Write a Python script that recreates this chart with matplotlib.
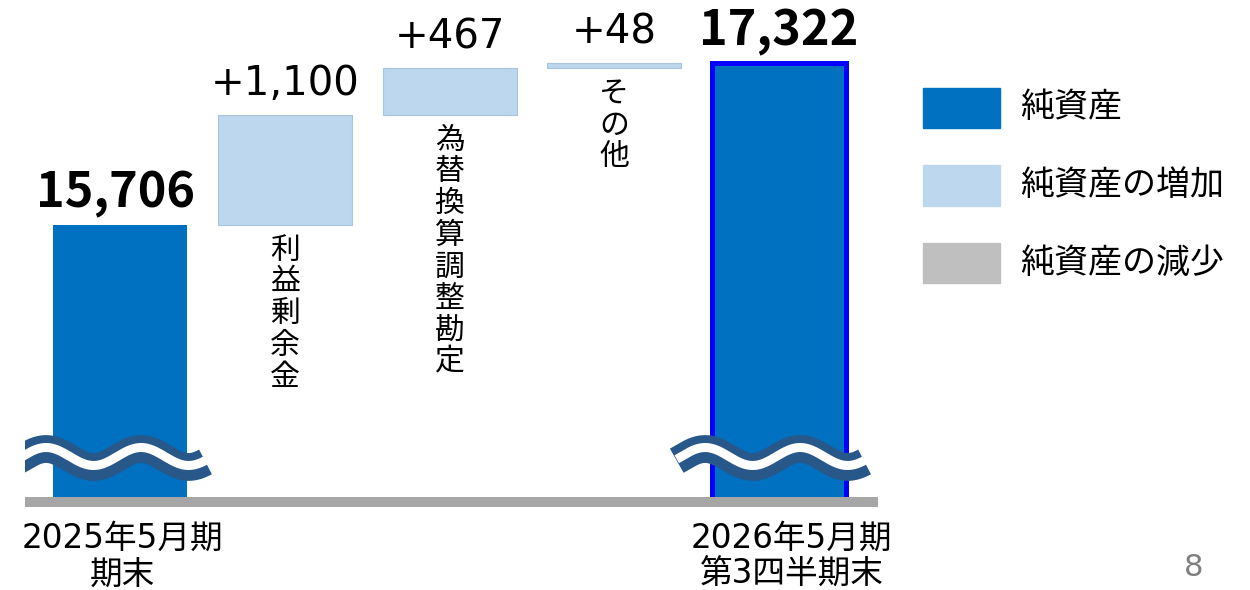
import numpy as np
import matplotlib
matplotlib.use("Agg")
import matplotlib.pyplot as plt
from matplotlib.patches import Rectangle

plt.rcParams['font.family'] = ['Noto Sans CJK JP', 'DejaVu Sans']
latin_first = ['DejaVu Sans', 'Noto Sans CJK JP']

# data
categories = ["2025年5月期\n期末", "利益剰余金", "為替換算調整勘定", "その他", "2026年5月期\n第3四半期末"]
start_value = 15706
changes = [1100, 467, 48]
end_value = 17322
legend_labels = ["純資産", "純資産の増加", "純資産の減少"]

dark_blue = "#0070C0"
light_blue = "#BDD7EE"
gray = "#BFBFBF"
base_gray = "#A6A6A6"
wave_col = "#28588A"

fig = plt.figure(figsize=(12.5, 5.9), dpi=100)
ax = fig.add_axes([25/1250, 88/590, 853/1250, 502/590])
ax.set_xlim(-0.577, 4.60)
ax.set_ylim(12936, 17956)
ax.axis("off")

w = 0.813
y0 = ax.get_ylim()[0]

# totals
ax.bar(0, start_value - y0, bottom=y0, width=w, color=dark_blue)
ax.bar(4, end_value - y0, bottom=y0, width=w, color=dark_blue,
       edgecolor="#0000FF", linewidth=3.6)

# increments
bottoms = start_value + np.concatenate([[0], np.cumsum(changes)[:-1]])
ax.bar([1, 2, 3], changes, bottom=bottoms, width=w, color=light_blue,
       edgecolor="#A9C4E0", linewidth=0.8)

# value labels
ax.annotate(f"{start_value:,}", (0, start_value), xytext=(-3, 23), textcoords="offset points",
            ha="center", va="center", fontsize=35, fontweight="bold")
ax.annotate(f"{end_value:,}", (4, end_value), xytext=(0, 23), textcoords="offset points",
            ha="center", va="center", fontsize=35, fontweight="bold")
for i, (b, c) in enumerate(zip(bottoms, changes)):
    ax.annotate(f"+{c:,}", (i + 1, b + c), xytext=(0, 22), textcoords="offset points",
                ha="center", va="center", fontsize=29, family=latin_first)
    ax.annotate("\n".join(categories[i + 1]), (i + 1, b), xytext=(0, -7),
                textcoords="offset points", ha="center", va="top",
                fontsize=21.5, linespacing=1.03)

# bottom labels
for i, dx in [(0, 2), (4, 9)]:
    ax.annotate(categories[i], (i, 0), xycoords=("data", "axes fraction"),
                xytext=(dx, -14), textcoords="offset points",
                ha="center", va="top", fontsize=23.5, linespacing=1.12,
                family=latin_first)

# baseline
ax.axhline(y0, color=base_gray, linewidth=7.2, solid_capstyle="butt", clip_on=False)

# axis break waves
def draw_break(xc):
    xs = np.linspace(xc - 0.585, xc + 0.555, 200)
    per = 95 / 164.75
    ys = 13376 + 90 * np.sin(2 * np.pi * (xs - (xc - 68 / 164.75)) / per + np.pi / 2)
    ax.plot(xs, ys, color=wave_col, linewidth=20, solid_capstyle="butt")
    ax.plot(xs, ys + 15, color="white", linewidth=6.5, solid_capstyle="butt")

draw_break(0 - 6 / 164.75)
draw_break(4 - 6 / 164.75)

# legend
for k, (lab, col) in enumerate(zip(legend_labels, [dark_blue, light_blue, gray])):
    yc = 1 - (108 + 77.5 * k) / 590
    fig.patches.append(Rectangle((923 / 1250, yc - 20 / 590), 77 / 1250, 40 / 590,
                                 transform=fig.transFigure, color=col))
    fig.text(1020 / 1250, yc, lab, fontsize=24.5, va="center", ha="left")

fig.text(1194 / 1250, 1 - 567 / 590, "8", fontsize=22, color="#808080",
         ha="center", va="center", family=latin_first)

fig.savefig("out.png", dpi=100)
